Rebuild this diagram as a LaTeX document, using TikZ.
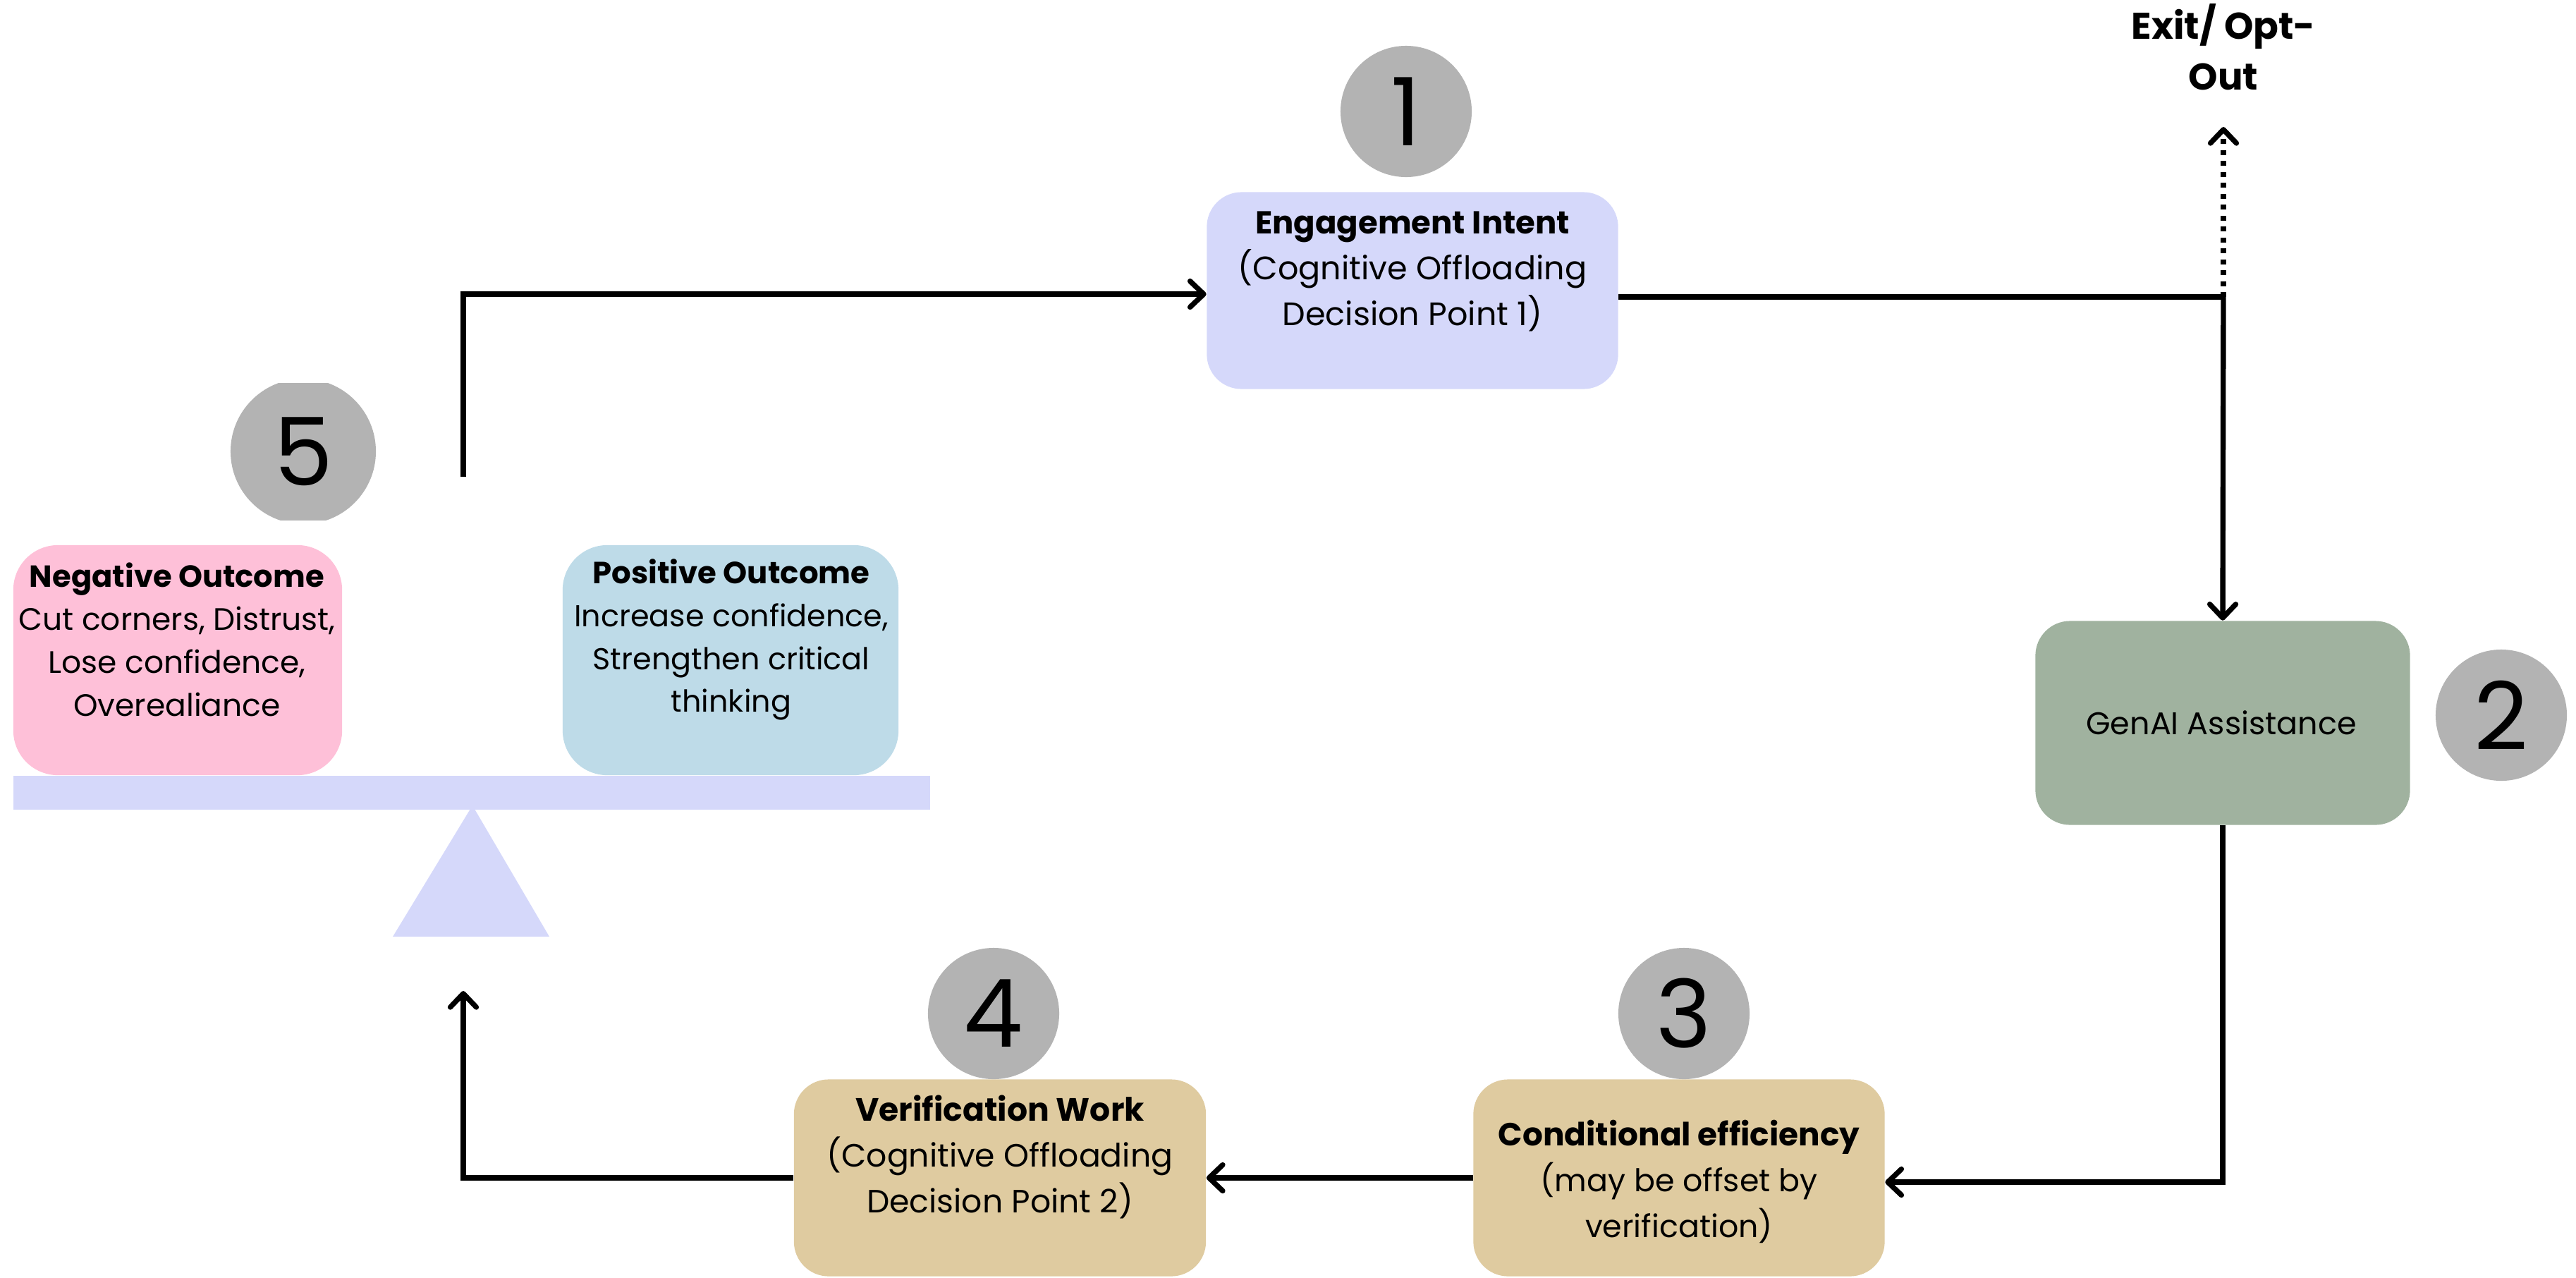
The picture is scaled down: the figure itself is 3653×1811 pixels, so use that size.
\documentclass[tikz,border=0pt]{standalone}
\usepackage{fontspec}
\setmainfont{Poppins}
\usetikzlibrary{arrows.meta}
\definecolor{lav}{HTML}{D5D8FA}
\definecolor{sage}{HTML}{A0B29F}
\definecolor{tanb}{HTML}{DFCBA0}
\definecolor{pinkb}{HTML}{FEC0D8}
\definecolor{blueb}{HTML}{BEDBE8}
\definecolor{greyc}{HTML}{B3B3B3}
\newcommand{\hdr}[2]{{\fontsize{#1}{18.5}\selectfont\bfseries #2}}
\begin{document}
\begin{tikzpicture}[x=0.01cm,y=-0.01cm,
  box/.style={rounded corners=14pt, inner sep=0pt, draw=none},
  txt/.style={align=center, inner sep=0pt},
  numc/.style={circle, fill=greyc, minimum size=1.86cm, inner sep=0pt, font=\fontsize{38}{40}\selectfont},
  conn/.style={line width=2.1pt, -{Straight Barb[length=5.5pt,width=10.5pt,round]}},
  dotconn/.style={conn, dash pattern=on 2pt off 2.4pt},
  plainline/.style={line width=2.1pt},
]
\useasboundingbox (0,0) rectangle (3653,1811);

% scale
\fill[lav] (19,1100) rectangle (1319,1148);
\fill[lav] (557,1328) -- (670,1142) -- (779,1328) -- cycle;

% boxes
\node[box, fill=lav, minimum width=5.83cm, minimum height=2.79cm] (b1) at (2003,412) {};
\node[box, fill=sage, minimum width=5.31cm, minimum height=2.89cm] (b2) at (3152,1025) {};
\node[box, fill=tanb, minimum width=5.83cm, minimum height=2.79cm] (b3) at (2381,1670) {};
\node[box, fill=tanb, minimum width=5.84cm, minimum height=2.79cm] (b4) at (1418,1670) {};
\node[box, fill=pinkb, rounded corners=18pt, minimum width=4.66cm, minimum height=3.26cm] (neg) at (252,936) {};
\node[box, fill=blueb, rounded corners=18pt, minimum width=4.76cm, minimum height=3.26cm] (pos) at (1036,936) {};

% texts
\node[txt, font=\fontsize{13.1}{18.5}\selectfont] (t1) at (2003,385) {\hdr{12.8}{Engagement Intent}\\(Cognitive Offloading\\Decision Point 1)};
\node[txt, font=\fontsize{12.65}{18.5}\selectfont] (t2) at (3150,1025) {GenAI Assistance};
\node[txt, font=\fontsize{12.6}{18.5}\selectfont] (t3) at (2381,1675) {\hdr{12.9}{Conditional efficiency}\\(may be offset by\\verification)};
\node[txt, font=\fontsize{13}{18.5}\selectfont] (t4) at (1418,1640) {\hdr{13}{Verification Work}\\(Cognitive Offloading\\Decision Point 2)};
\node[txt, font=\fontsize{12.5}{17.3}\selectfont] (tneg) at (251,907) {\hdr{12.3}{Negative Outcome}\\Cut corners, Distrust,\\Lose confidence,\\Overealiance};
\node[txt, font=\fontsize{12.2}{17.3}\selectfont] (tpos) at (1037,907) {\hdr{12.35}{Positive Outcome}\\Increase confidence,\\Strengthen critical\\thinking};
\node[txt, font=\fontsize{15}{20.5}\selectfont\bfseries] (exit) at (3153,67) {Exit/ Opt-\\Out};

% number circles
\node[numc] (n1) at (1994,158) {1};
\node[numc] (n2) at (3547,1014) {2};
\node[numc] (n3) at (2388,1437) {3};
\node[numc] (n4) at (1409,1437) {4};
\begin{scope}
  \clip (0,543) rectangle (1000,737);
  \node[numc, minimum size=2.06cm] (n5) at (430,640) {5};
\end{scope}

% connectors
\coordinate (s5) at (657,676);
\coordinate (j1) at (3153,421);
\coordinate (exitTip) at (3153,180);
\coordinate (up5) at (657,1405);

\draw[conn] (s5) |- ([yshift=-0.05cm]b1.west);
\draw[plainline] (j1 -| b1.east) -- (j1);
\draw[conn] (j1) -- (b2.north);
\draw[dotconn] (j1) -- (exitTip);
\draw[conn] (b2.south) |- ([yshift=-0.06cm]b3.east);
\draw[conn] (b3.west) -- (b4.east);
\draw[conn] (b4.west) -| (up5);
\end{tikzpicture}
\end{document}
